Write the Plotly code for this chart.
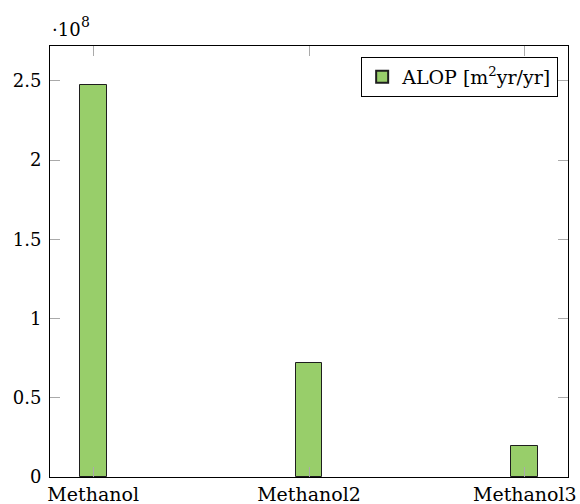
import plotly.graph_objects as go

categories = ["Methanol", "Methanol2", "Methanol3"]
alop_values = [2.475e8, 0.72e8, 0.196e8]
series_name = "ALOP [m<sup>2</sup>yr/yr]"
y_tick_vals = [0, 0.5e8, 1.0e8, 1.5e8, 2.0e8, 2.5e8]
y_tick_text = ["0", "0.5", "1", "1.5", "2", "2.5"]
exponent_base = "·10"
exponent_power = "8"

FONT = "DejaVu Serif"
BAR_COLOR = "rgb(152,206,106)"
TICK_COLOR = "rgb(170,170,170)"

fig = go.Figure()
fig.add_trace(go.Bar(
    x=categories, y=alop_values, name=series_name,
    width=0.124,
    marker=dict(color=BAR_COLOR, line=dict(color="rgb(30,30,30)", width=1)),
    showlegend=True,
))

fig.update_layout(
    width=580, height=504,
    margin=dict(l=50, r=12, t=46, b=27, autoexpand=False),
    paper_bgcolor="white", plot_bgcolor="white",
    font=dict(family=FONT, size=19, color="black"),
    bargap=0,
    showlegend=True,
    legend=dict(
        x=0.981, xanchor="right", y=0.975, yanchor="top",
        bordercolor="black", borderwidth=1, bgcolor="white",
        font=dict(family=FONT, size=19),
        itemsizing="constant",
    ),
    xaxis=dict(
        type="category", range=[-0.2, 2.2], automargin=False,
        showline=True, linecolor="black", linewidth=1, mirror="ticks",
        ticks="inside", ticklen=10, tickcolor=TICK_COLOR, tickwidth=1,
        showgrid=False, zeroline=False,
        tickfont=dict(family=FONT, size=19),
        ticklabelstandoff=0,
    ),
    yaxis=dict(
        range=[0, 2.72e8], automargin=False,
        tickvals=y_tick_vals, ticktext=y_tick_text,
        showline=True, linecolor="black", linewidth=1, mirror="ticks",
        ticks="inside", ticklen=10, tickcolor=TICK_COLOR, tickwidth=1,
        showgrid=False, zeroline=False,
        tickfont=dict(family=FONT, size=18),
        ticklabelstandoff=4,
    ),
    annotations=[
        dict(
            text=exponent_base, xref="paper", yref="paper",
            x=0.0, y=1.0, xanchor="left", yanchor="bottom", yshift=4,
            showarrow=False, font=dict(family=FONT, size=18),
        ),
        dict(
            text=exponent_power, xref="paper", yref="paper",
            x=0.0, y=1.0, xanchor="left", yanchor="bottom", xshift=29, yshift=14,
            showarrow=False, font=dict(family=FONT, size=14),
        ),
    ],
)

fig.write_html("out.html")
